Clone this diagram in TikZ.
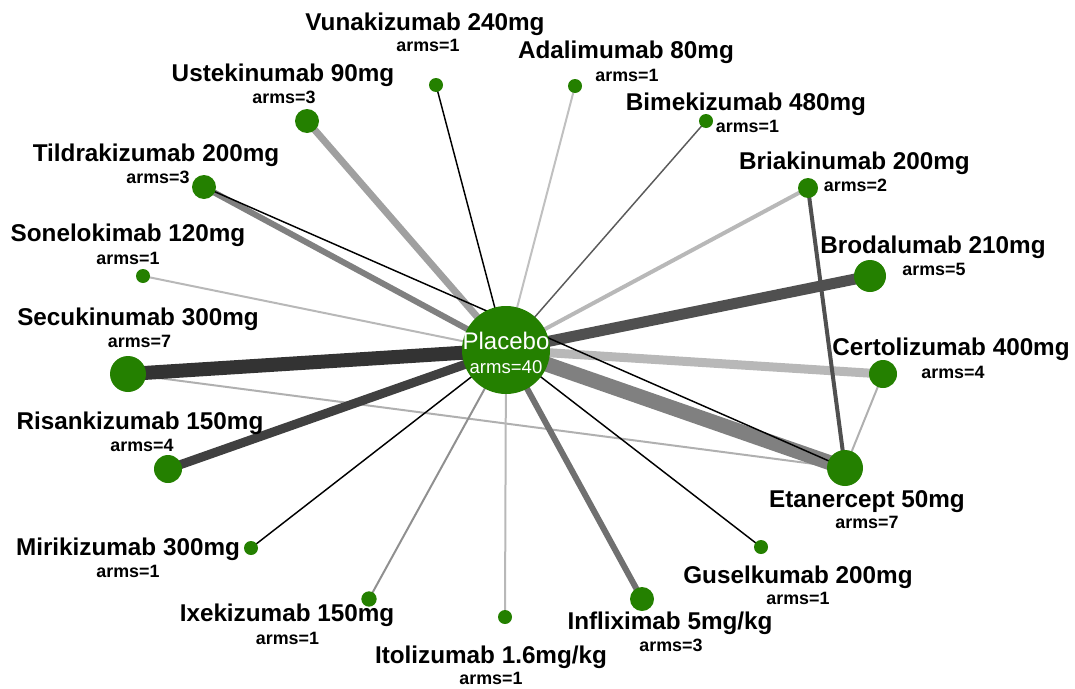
\documentclass[tikz,border=0pt]{standalone}
\usepackage{fontspec}
\setmainfont{Liberation Sans}
\usetikzlibrary{backgrounds}
\definecolor{ngreen}{RGB}{36,128,0}
\definecolor{g33}{RGB}{51,51,51}
\definecolor{g40}{RGB}{64,64,64}
\definecolor{g50}{RGB}{80,80,80}
\definecolor{g5a}{RGB}{90,90,90}
\definecolor{g70}{RGB}{112,112,112}
\definecolor{g80}{RGB}{128,128,128}
\definecolor{g90}{RGB}{144,144,144}
\definecolor{ga0}{RGB}{160,160,160}
\definecolor{gb0}{RGB}{176,176,176}
\definecolor{gb8}{RGB}{184,184,184}
\definecolor{gc0}{RGB}{192,192,192}
\begin{document}
\begin{tikzpicture}[x=0.75pt,y=-0.75pt,
  nd/.style={circle,fill=ngreen,inner sep=0pt},
  lbl/.style={font=\fontsize{18.2}{20}\selectfont\bfseries,inner sep=0pt,anchor=base},
  arm/.style={font=\fontsize{13.4}{15}\selectfont\bfseries,inner sep=0pt,anchor=base},
  ed/.style={line cap=butt}]
\useasboundingbox (0,0) rectangle (1075,689);
% nodes
\node[nd,minimum size=66pt] (plc) at (506,350) {};
\node[font=\fontsize{18}{20}\selectfont,text=white,inner sep=0pt,anchor=base] (plct) at (506,349.5) {Placebo};
\node[font=\fontsize{13.9}{16}\selectfont,text=white,inner sep=0pt,anchor=base] (plca) at (506,373.5) {arms=40};
\node[nd,minimum size=10.5pt] (vun) at (436,85) {};
\node[nd,minimum size=10.5pt] (ada) at (575,86) {};
\node[nd,minimum size=10.5pt] (bim) at (706,121) {};
\node[nd,minimum size=15pt] (bria) at (808,188) {};
\node[nd,minimum size=24pt] (brod) at (870,276) {};
\node[nd,minimum size=21pt] (cert) at (883,374) {};
\node[nd,minimum size=27pt] (eta) at (845,468) {};
\node[nd,minimum size=10.5pt] (gus) at (761,547) {};
\node[nd,minimum size=18pt] (inf) at (642,599) {};
\node[nd,minimum size=10.5pt] (ito) at (505,617) {};
\node[nd,minimum size=11.5pt] (ixe) at (369,599) {};
\node[nd,minimum size=10.5pt] (mir) at (251,548) {};
\node[nd,minimum size=21pt] (ris) at (168,469) {};
\node[nd,minimum size=27pt] (sec) at (128,374) {};
\node[nd,minimum size=10.5pt] (son) at (143,276) {};
\node[nd,minimum size=18pt] (til) at (204,187) {};
\node[nd,minimum size=18pt] (ust) at (307,121) {};
% labels
\node[lbl] (vunl) at (425,30.5) {Vunakizumab 240mg};
\node[arm] (vuna) at (428,51) {arms=1};
\node[lbl] (ustl) at (283,81.5) {Ustekinumab 90mg};
\node[arm] (usta) at (284,103) {arms=3};
\node[lbl] (till) at (156,161.5) {Tildrakizumab 200mg};
\node[arm] (tila) at (158,183) {arms=3};
\node[lbl] (sonl) at (128,241.5) {Sonelokimab 120mg};
\node[arm] (sona) at (128,264) {arms=1};
\node[lbl] (secl) at (138,325.5) {Secukinumab 300mg};
\node[arm] (seca) at (139.5,347) {arms=7};
\node[lbl] (risl) at (140,429.5) {Risankizumab 150mg};
\node[arm] (risa) at (142,451) {arms=4};
\node[lbl] (mirl) at (128,555.5) {Mirikizumab 300mg};
\node[arm] (mira) at (128,577) {arms=1};
\node[lbl] (ixel) at (287,621.5) {Ixekizumab 150mg};
\node[arm] (ixea) at (287.5,644) {arms=1};
\node[lbl] (itol) at (491,663.5) {Itolizumab 1.6mg/kg};
\node[arm] (itoa) at (491,684) {arms=1};
\node[lbl] (infl) at (670,629.5) {Infliximab 5mg/kg};
\node[arm] (infa) at (671,651) {arms=3};
\node[lbl] (gusl) at (798,583.5) {Guselkumab 200mg};
\node[arm] (gusa) at (798,604) {arms=1};
\node[lbl] (etal) at (867,507.5) {Etanercept 50mg};
\node[arm] (etaa) at (867,528) {arms=7};
\node[lbl] (certl) at (951,355.5) {Certolizumab 400mg};
\node[arm] (certa) at (953,378) {arms=4};
\node[lbl] (brodl) at (933,253.5) {Brodalumab 210mg};
\node[arm] (broda) at (934,275) {arms=5};
\node[lbl] (brial) at (854.5,169.5) {Briakinumab 200mg};
\node[arm] (briaa) at (855.5,191) {arms=2};
\node[lbl] (biml) at (746,110.5) {Bimekizumab 480mg};
\node[arm] (bima) at (747.5,132) {arms=1};
\node[lbl] (adal) at (626,58.5) {Adalimumab 80mg};
\node[arm] (adaa) at (627,81) {arms=1};
% edges
\begin{scope}[on background layer]
\draw[ed,line width=1.5pt,draw=gb0] (sec.center) -- (eta.center);
\draw[ed,line width=1.5pt,draw=gb0] (cert.center) -- (eta.center);
\draw[ed,line width=1.5pt,draw=gb8] (plc.center) -- (son.center);
\draw[ed,line width=1.5pt,draw=gc0] (plc.center) -- (ada.center);
\draw[ed,line width=1.5pt,draw=gb8] (plc.center) -- (ito.center);
\draw[ed,line width=1.5pt,draw=g90] (plc.center) -- (ixe.center);
\draw[ed,line width=1.1pt,draw=g5a] (plc.center) -- (bim.center);
\draw[ed,line width=1.1pt,draw=black] (plc.center) -- (vun.center);
\draw[ed,line width=1.1pt,draw=black] (plc.center) -- (mir.center);
\draw[ed,line width=1.1pt,draw=black] (plc.center) -- (gus.center);
\draw[ed,line width=3pt,draw=gb8] (plc.center) -- (bria.center);
\draw[ed,line width=5.25pt,draw=ga0] (plc.center) -- (ust.center);
\draw[ed,line width=4.5pt,draw=g80] (plc.center) -- (til.center);
\draw[ed,line width=4.5pt,draw=g70] (plc.center) -- (inf.center);
\draw[ed,line width=6.75pt,draw=gb8] (plc.center) -- (cert.center);
\draw[ed,line width=6.75pt,draw=g40] (plc.center) -- (ris.center);
\draw[ed,line width=8.25pt,draw=g50] (plc.center) -- (brod.center);
\draw[ed,line width=11.25pt,draw=g80] (plc.center) -- (eta.center);
\draw[ed,line width=10.5pt,draw=g33] (plc.center) -- (sec.center);
\draw[ed,line width=1.1pt,draw=black] (til.center) -- (eta.center);
\draw[ed,line width=3pt,draw=g50] (bria.center) -- (eta.center);
\end{scope}
\end{tikzpicture}
\end{document}
